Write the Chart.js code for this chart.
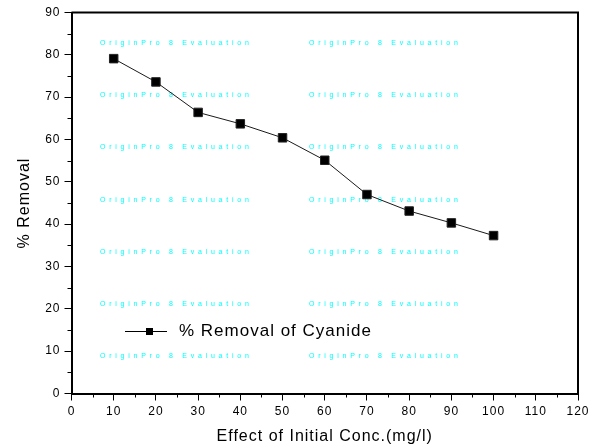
<!DOCTYPE html>
<html><head><meta charset="utf-8">
<script src="https://cdn.jsdelivr.net/npm/chart.js@4.4.1/dist/chart.umd.min.js"></script>
<style>html,body{margin:0;padding:0;background:#fff;}canvas{display:block;}</style>
</head><body>
<canvas id="c" width="600" height="448"></canvas>
<script>
// ---- data ----
const concentrations = [10, 20, 30, 40, 50, 60, 70, 80, 90, 100];
const removalPercent = [79.1, 73.6, 66.4, 63.7, 60.4, 55.1, 47.0, 43.1, 40.3, 37.3];
const seriesLabel = '% Removal of Cyanide';
const xTitle = 'Effect of Initial Conc.(mg/l)';
const yTitle = '% Removal';
const watermarkText = 'OriginPro 8 Evaluation';
const xRange = [0, 120];
const xStep = 10;
const yRange = [0, 90];
const yStep = 10;

const FONT = '"Liberation Sans", Arial, Helvetica, sans-serif';

const framePlugin = {
  id: 'frame',
  beforeDraw(chart) {
    chart.ctx.letterSpacing = '1px';
  },
  beforeDatasetsDraw(chart) {
    const ctx = chart.ctx;
    ctx.save();
    ctx.font = '7px ' + FONT;
    ctx.letterSpacing = '3.75px';
    ctx.fillStyle = '#00ffff';
    ctx.textBaseline = 'middle';
    ctx.textAlign = 'left';
    const rows = [43.3, 95.4, 147.5, 199.6, 251.7, 303.8, 355.9];
    const cols = [100, 309];
    rows.forEach(y => cols.forEach(x => ctx.fillText(watermarkText, x, y)));
    ctx.restore();
  },
  afterDraw(chart) {
    const {ctx, chartArea: a, scales} = chart;
    ctx.save();
    ctx.strokeStyle = '#000';
    ctx.lineWidth = 2;
    ctx.beginPath();
    ctx.moveTo(a.left, a.top);
    ctx.lineTo(a.right, a.top);
    ctx.lineTo(a.right, a.bottom);
    ctx.stroke();
    // minor ticks
    ctx.lineWidth = 1;
    ctx.beginPath();
    for (let v = xRange[0] + xStep / 2; v < xRange[1]; v += xStep) {
      const px = Math.round(scales.x.getPixelForValue(v)) + 0.5;
      ctx.moveTo(px, a.bottom);
      ctx.lineTo(px, a.bottom + 4);
    }
    for (let v = yRange[0] + yStep / 2; v < yRange[1]; v += yStep) {
      const py = Math.round(scales.y.getPixelForValue(v)) + 0.5;
      ctx.moveTo(a.left, py);
      ctx.lineTo(a.left - 4, py);
    }
    ctx.stroke();
    // legend
    const ds = chart.data.datasets[0];
    const ly = 331;
    ctx.strokeStyle = '#000';
    ctx.lineWidth = 1;
    ctx.beginPath();
    ctx.moveTo(125, ly + 0.5);
    ctx.lineTo(167, ly + 0.5);
    ctx.stroke();
    ctx.fillStyle = '#000';
    ctx.fillRect(146, ly - 3, 7, 7);
    ctx.font = '17px ' + FONT;
    ctx.letterSpacing = '1px';
    ctx.textBaseline = 'middle';
    ctx.textAlign = 'left';
    ctx.fillText(ds.label, 179, ly);
    ctx.restore();
  }
};

new Chart(document.getElementById('c'), {
  type: 'line',
  data: {
    datasets: [{
      label: seriesLabel,
      data: concentrations.map((x, i) => ({x: x, y: removalPercent[i]})),
      borderColor: '#1a1a1a',
      borderWidth: 1,
      pointStyle: 'rect',
      pointRadius: 6,
      pointBackgroundColor: '#000',
      pointBorderColor: '#222',
      pointBorderWidth: 1,
      tension: 0,
      fill: false
    }]
  },
  options: {
    responsive: false,
    animation: false,
    devicePixelRatio: 1,
    layout: {padding: {top: 12.5, right: 22, left: 0, bottom: 0}},
    plugins: {legend: {display: false}, tooltip: {enabled: false}},
    scales: {
      x: {
        type: 'linear',
        min: xRange[0], max: xRange[1],
        afterFit: s => { s.height = 54.5; },
        ticks: {stepSize: xStep, color: '#000', padding: 4, font: {family: FONT, size: 12}, maxRotation: 0, autoSkip: false},
        grid: {display: true, drawOnChartArea: false, drawTicks: true, tickLength: 7, color: '#000', lineWidth: 1},
        border: {display: true, color: '#000', width: 2},
        title: {display: true, text: xTitle, color: '#000', font: {family: FONT, size: 16}, padding: {top: 0, bottom: 2}}
      },
      y: {
        type: 'linear',
        min: yRange[0], max: yRange[1],
        afterFit: s => { s.width = 71.5; },
        ticks: {stepSize: yStep, color: '#000', padding: 4, font: {family: FONT, size: 12}, autoSkip: false},
        grid: {display: true, drawOnChartArea: false, drawTicks: true, tickLength: 7, color: '#000', lineWidth: 1},
        border: {display: true, color: '#000', width: 2},
        title: {display: true, text: yTitle, color: '#000', font: {family: FONT, size: 16}, padding: {top: 15, bottom: 0}}
      }
    }
  },
  plugins: [framePlugin]
});
</script>
</body></html>
